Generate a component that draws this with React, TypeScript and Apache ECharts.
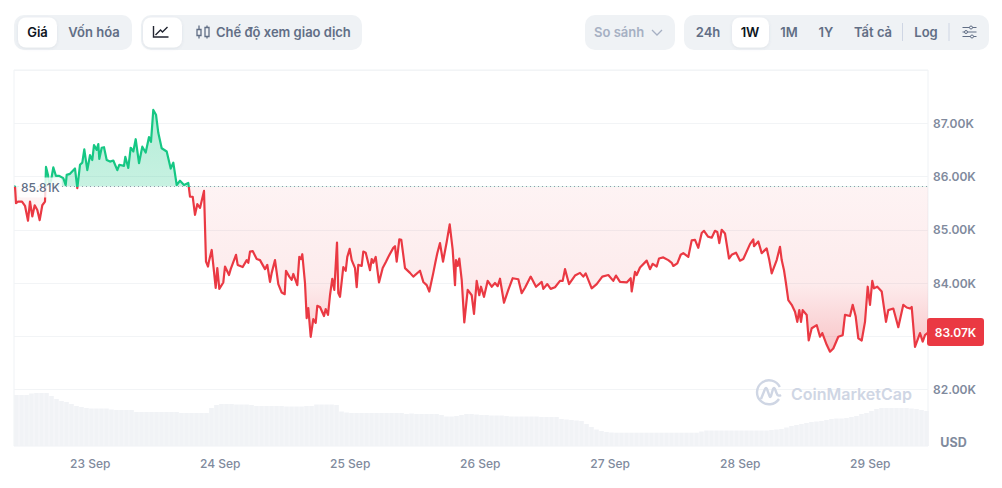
import React, { useEffect, useRef } from 'react'
import * as echarts from 'echarts'

// one tick = 1/130 of a day
const dayLabels = ['23 Sep', '24 Sep', '25 Sep', '26 Sep', '27 Sep', '28 Sep', '29 Sep']
const dayTicks = [76.7, 206.7, 336.7, 466.7, 596.7, 726.7, 856.7]
const basePrice = 85.81
const lastPrice = 83.07

// [tick, price in K USD]
const priceData: [number, number][] = [
  [0, 85.81], [1, 85.81], [2, 85.5], [4, 85.53], [8, 85.53], [11, 85.45], [14, 85.17], [16, 85.53], [18.3, 85.25], [20.7, 85.46], [23.3, 85.37], [25.7, 85.18], [28.3, 85.46], [31, 85.53],
  [32, 86.18], [34, 86.03], [35, 85.86], [37, 85.92], [39.3, 86.17], [42, 86.01], [45.3, 86.01], [49.3, 85.97], [51.7, 85.84], [52.7, 86.03], [56, 86.05], [61, 86.15], [63.3, 85.78],
  [66, 86.22], [68.3, 86.26], [70.3, 86.51], [73.3, 86.12], [76, 86.4], [78.3, 86.31], [80, 86.59], [82.7, 86.5], [84.3, 86.61], [85.3, 86.33], [87.7, 86.54], [90, 86.55], [92.7, 86.31],
  [96, 86.28], [99.3, 86.3], [103.3, 86.12], [105.3, 86.22], [110, 86.2], [111.3, 86.37], [114.3, 86.16], [116.7, 86.54], [119.3, 86.47], [121.7, 86.7], [125, 86.25], [128.3, 86.56],
  [131.7, 86.45], [135, 86.74], [137, 86.65], [139.3, 87.25], [142, 87.16], [144.3, 86.82], [147.7, 86.53], [152.7, 86.47], [156.7, 86.15], [159.3, 86.26], [162.7, 85.84], [166, 85.92],
  [170, 85.84], [174.3, 85.88], [176, 85.62], [178.7, 85.62], [181, 85.28], [183.3, 85.48], [186, 85.41], [190, 85.73], [192, 84.4], [194, 84.31], [195, 84.41], [197.7, 84.62],
  [201.7, 83.91], [203.3, 84.28], [205.3, 83.89], [209.3, 84.01], [211, 84.31], [215, 84.15], [216.7, 84.26], [222, 84.53], [223.7, 84.34], [228.7, 84.3], [232.7, 84.43], [234.3, 84.38],
  [236, 84.59], [238.7, 84.6], [242.7, 84.45], [246, 84.43], [251, 84.26], [253.3, 84.34], [256, 84.02], [257.7, 84.19], [261, 84.43], [264.3, 83.98], [267.7, 83.82], [270.7, 83.79],
  [272, 84.23], [275.3, 84.12], [277.7, 84.06], [279.3, 84.17], [283.3, 83.96], [285.3, 84.49], [287, 84.45], [288.3, 84.54], [291, 84], [292.7, 83.34], [294.3, 83.53], [296.7, 82.99],
  [299.3, 83.32], [301.7, 83.25], [303.3, 83.57], [306, 83.55], [310, 83.38], [311.7, 83.51], [314, 83.4], [316, 83.77], [318.3, 84.08], [320.3, 83.87], [323, 84.76], [324.3, 83.81],
  [326, 83.74], [329.3, 84.3], [331.7, 84.23], [333.3, 84.49], [335.7, 84.64], [337.7, 84.43], [341, 84.28], [342.7, 83.92], [344.3, 84.34], [347.7, 84.32], [349.3, 84.59], [351.7, 84.57],
  [356, 84.24], [357.7, 84.45], [359.3, 84.38], [361.7, 84.49], [365, 84.01], [368.7, 84.28], [372, 84.4], [374.3, 84.49], [379.3, 84.66], [381, 84.69], [382.7, 84.4], [385.3, 84.82],
  [387.3, 84.81], [391, 84.28], [396, 84.19], [399.3, 84.12], [406, 84.23], [409.3, 84.02], [412.7, 83.96], [415.3, 83.84], [419.3, 84.19], [421.3, 84.38], [423.3, 84.56], [426, 84.75],
  [429, 84.4], [432.7, 84.77], [435.7, 85.1], [438.7, 84.62], [441, 83.96], [442, 84.43], [443.7, 84.32], [445.3, 84.46], [447.7, 84.06], [450.3, 83.26], [453.7, 83.87], [457.7, 83.77],
  [460, 83.42], [462.7, 84.04], [465.3, 83.77], [467, 83.93], [470, 83.74], [473.7, 84.04], [477.7, 83.93], [481, 84], [483.7, 83.94], [486, 84.08], [490, 83.63], [494.3, 83.87],
  [498.7, 84.09], [504.3, 84.07], [507.7, 83.81], [511, 83.91], [516.7, 84.12], [522, 83.93], [527.7, 84.02], [529.3, 83.89], [533.3, 83.98], [536.7, 83.89], [541, 83.92], [546, 84.04],
  [548.7, 84.04], [551, 84.26], [555, 83.98], [561, 84.14], [566, 84.19], [569.3, 84.12], [571.7, 84.18], [577.7, 83.9], [582.7, 83.98], [588.3, 84.12], [594.3, 84.15], [599.3, 84.04],
  [602, 84.14], [606, 84.02], [612.7, 84.01], [616.7, 84.09], [617.7, 83.84], [621, 84.21], [622.7, 84.15], [626, 84.29], [632.7, 84.42], [636, 84.26], [638.7, 84.36], [642.7, 84.31],
  [645, 84.46], [649.3, 84.48], [654.3, 84.43], [657.7, 84.38], [659.3, 84.32], [663.3, 84.37], [666.7, 84.53], [669.3, 84.56], [674.3, 84.49], [677.7, 84.8], [681, 84.81], [684.3, 84.66],
  [687.7, 84.94], [690, 84.98], [694, 84.87], [697.7, 84.85], [701, 84.98], [703.3, 84.96], [705.3, 84.75], [707.7, 85], [711, 84.93], [715, 84.46], [717.7, 84.53], [722, 84.57],
  [726, 84.42], [729.3, 84.45], [736, 84.73], [739.3, 84.82], [740, 84.69], [744.3, 84.78], [747.7, 84.56], [752.7, 84.65], [755.3, 84.43], [757.7, 84.18], [762.7, 84.43], [766, 84.68],
  [767.7, 84.43], [770, 84.24], [772, 83.99], [774.3, 83.68], [777.7, 83.59], [781, 83.46], [783.3, 83.27], [785.3, 83.49], [787, 83.27], [788.7, 83.49], [792.7, 83.4], [794.7, 82.92],
  [797.7, 83.15], [802.7, 83.21], [806, 82.99], [808.3, 83.06], [812.7, 82.84], [816, 82.71], [819.3, 82.77], [824.3, 82.99], [828.7, 83.02], [831, 83.4], [836, 83.38], [838.7, 83.59],
  [841.7, 83.37], [844.3, 82.96], [847.7, 82.92], [851, 83.27], [853.7, 83.93], [856, 83.59], [858.3, 84.04], [860, 83.9], [863.3, 83.93], [867.7, 83.84], [872, 83.27], [874.3, 83.49],
  [879.3, 83.52], [884.3, 83.17], [889.3, 83.59], [892.7, 83.54], [896, 83.52], [897.7, 83.55], [901, 82.8], [906, 83.06], [908.7, 82.9], [911, 83.02], [914, 83.07],
]

// one bar every 5 ticks
const volumeStep = 5
const volumes = [
  51, 51, 51, 52.5, 53, 53, 53, 50, 47, 45, 44, 42, 40, 39, 38, 37.5, 37.5, 37.5, 37.5, 36.5, 36, 36, 36, 36, 34, 34, 34, 34, 34, 34, 34, 34, 34,
  33, 33, 33, 33, 33, 33, 38, 41, 42, 42, 42, 41.5, 41.5, 41.5, 41, 40, 40, 40, 40, 40, 40, 39.5, 39.5, 39.5, 39.5, 40, 40, 41.5, 41.5, 41.5, 41.5, 41,
  34.5, 33.5, 33, 33, 33, 33, 33, 33, 33, 33, 33, 33, 33, 32, 32.5, 32, 32, 32, 32, 32, 31, 29.5, 29.5, 30, 31, 32, 32, 31.5, 31, 31, 30.5, 30.5, 30.5,
  30, 29.5, 29.5, 29.5, 29.5, 29.5, 29.5, 29, 29, 29, 29, 27, 26.5, 26, 25.5, 25, 22, 19, 16.5, 15, 14, 13.5,
  13.3, 13.3, 13.3, 13.3, 13.3, 13.3, 13.3, 13.3, 13.3, 13.3, 13.3, 13.3, 13.3, 13.3, 13.3, 13.3, 13.3, 14.5,
  15.5, 15.5, 15.5, 15.5, 15.5, 15.5, 15.5, 15.5, 15.5, 15.5, 15.5, 15.5, 15.5, 16, 16.5, 17, 18.5, 20, 21, 22, 23, 24, 24.5, 25, 26, 27, 27.5, 27.5,
  28, 29, 30, 32, 33, 35, 37, 38, 38, 38, 38, 38, 38, 37.5, 37, 36, 35,
]

const rangeTabs: [string, number][] = [['24h', 708], ['1W', 750], ['1M', 789], ['1Y', 826], ['Tất cả', 873], ['Log', 926]]

const FONT = 'Inter'
const GREEN = '#16C784'
const RED = '#EA3943'
const GREY = '#616E85'
const AXIS_GREY = '#808A9D'
const PILL = '#EFF2F5'

echarts.graphic.registerShape('cmcLogo', echarts.graphic.extendPath(
  'M10 7 A12 12 0 1 1 10.8 -5 M-8 7 L-4 -3 Q-3 -5 -2 -3 L0.5 4 Q1 6 2 4 L4 -3 Q5 -5 6 -3 L7.5 1 Q9 5 12 3', {}))
echarts.graphic.registerShape('lineIcon', echarts.graphic.extendPath(
  'M0 0 L0 11 L15 11 M2 9 L7 4 L9 6 L14 1', {}))
echarts.graphic.registerShape('candleIcon', echarts.graphic.extendPath(
  'M3 0 L3 4 M3 10 L3 13 M11 0 L11 2 M11 11 L11 13 M1 4 H5 V10 H1 Z M9 2 H13 V11 H9 Z', {}))
echarts.graphic.registerShape('chevronIcon', echarts.graphic.extendPath('M0 0 L5 5 L10 0', {}))
echarts.graphic.registerShape('settingsIcon', echarts.graphic.extendPath(
  'M0 2 H7 M10 2 H14 M0 6.5 H2 M5 6.5 H14 M0 11 H8 M11 11 H14 M7 2 A1.5 1.5 0 1 0 10 2 A1.5 1.5 0 1 0 7 2 M2 6.5 A1.5 1.5 0 1 0 5 6.5 A1.5 1.5 0 1 0 2 6.5 M8 11 A1.5 1.5 0 1 0 11 11 A1.5 1.5 0 1 0 8 11', {}))

const label = (text: string, x: number, y: number, fill: string, fontSize = 13, fontWeight = 600, textAlign = 'center') => ({
  type: 'text', x, y, z: 20,
  style: { text, fill, fontSize, fontWeight, fontFamily: FONT, textAlign, textVerticalAlign: 'middle' },
})
const pill = (x: number, y: number, width: number, height: number, r: number, fill: string) => ({
  type: 'rect', z: 18, shape: { x, y, width, height, r }, style: { fill },
})
const whitePill = (x: number, width: number) => ({
  ...pill(x, 17.5, width, 30, 8, '#fff'),
  z: 19,
  style: { fill: '#fff', shadowBlur: 3, shadowColor: 'rgba(88,102,126,0.12)', shadowOffsetY: 1 },
})
const icon = (type: string, x: number, y: number, stroke: string, width = 1.3) => ({
  type, x, y, z: 20, style: { fill: 'none', stroke, lineWidth: width },
})

const App = () => {
  const chartDom = useRef<HTMLDivElement>(null)

  useEffect(() => {
    const chart = echarts.init(chartDom.current!, null, { renderer: 'svg' })

    // global gradient, the hard stop sits on the base price line
    const baseStop = (187.1 - 110) / (352 - 110)
    const lineColor = new echarts.graphic.LinearGradient(0, 110, 0, 352, [
      { offset: 0, color: GREEN },
      { offset: baseStop, color: GREEN },
      { offset: baseStop, color: RED },
      { offset: 1, color: RED },
    ], true)
    const areaColor = new echarts.graphic.LinearGradient(0, 110, 0, 352, [
      { offset: 0, color: 'rgba(22,199,132,0.32)' },
      { offset: baseStop, color: 'rgba(22,199,132,0.24)' },
      { offset: baseStop, color: 'rgba(234,57,67,0.06)' },
      { offset: 0.72, color: 'rgba(234,57,67,0.1)' },
      { offset: 1, color: 'rgba(234,57,67,0.3)' },
    ], true)

    chart.setOption({
      animation: false,
      grid: [
        { left: 14, right: 74, top: 70, height: 319.5, show: true, borderColor: '#EFF2F5', borderWidth: 1 },
        { left: 14, right: 74, top: 389.5, height: 56.5, show: true, borderColor: '#EFF2F5', borderWidth: 1 },
      ],
      xAxis: [
        { type: 'value', gridIndex: 0, min: 0, max: 914, show: false, splitLine: { show: false } },
        {
          type: 'value', gridIndex: 1, min: 0, max: 914,
          splitLine: { show: false },
          axisLine: { show: false },
          axisTick: { show: false },
          axisLabel: {
            customValues: dayTicks,
            formatter: (v: number) => dayLabels[dayTicks.indexOf(v)] ?? '',
            color: AXIS_GREY, fontFamily: FONT, fontSize: 12, fontWeight: 500, margin: 11,
            padding: [0, 1, 0, 0],
          },
        },
      ],
      yAxis: [
        {
          type: 'value', gridIndex: 0, position: 'right', min: 82, max: 88, interval: 1,
          axisLine: { show: false },
          axisTick: { show: false },
          splitLine: { lineStyle: { color: '#F2F4F6', width: 1 } },
          axisLabel: {
            showMaxLabel: false,
            // 83.00K sits under the last price tag
            formatter: (v: number) => (v === 83 ? '' : v.toFixed(2) + 'K'),
            color: AXIS_GREY, fontFamily: FONT, fontSize: 12, fontWeight: 600, margin: 5,
          },
        },
        { type: 'value', gridIndex: 1, min: 0, max: 56.5, show: false, splitLine: { show: false } },
      ],
      series: [
        {
          type: 'bar', xAxisIndex: 1, yAxisIndex: 1, barWidth: 4.6, silent: true,
          itemStyle: { color: '#F1F3F6' },
          data: volumes.map((v, i) => [i * volumeStep + 2.5, v]),
        },
        {
          type: 'line', xAxisIndex: 0, yAxisIndex: 0, showSymbol: false, silent: true, z: 5,
          data: priceData,
          itemStyle: { color: RED },
          lineStyle: { width: 2.2, color: lineColor, join: 'round' },
          areaStyle: { color: areaColor, origin: basePrice, opacity: 1 },
          markLine: {
            silent: true, symbol: 'none', animation: false, z: 6,
            label: { show: false },
            lineStyle: { type: [1, 3], color: '#8F99AA', width: 1 },
            data: [{ yAxis: basePrice }],
          },
        },
      ],
      graphic: [
        // top bar, left
        pill(14, 15, 118, 35, 10, PILL),
        whitePill(18, 39),
        label('Giá', 37.5, 32, '#0D1421'),
        label('Vốn hóa', 94, 32, GREY),
        pill(141, 15, 221, 35, 10, PILL),
        whitePill(143, 39),
        icon('lineIcon', 153.5, 26, '#222531', 1.4),
        icon('candleIcon', 196, 25.5, GREY),
        label('Chế độ xem giao dịch', 216, 32, GREY, 13, 600, 'left'),
        // top bar, right
        pill(585, 15, 90, 35, 10, PILL),
        label('So sánh', 594, 32, '#A6B0C3', 13, 600, 'left'),
        icon('chevronIcon', 652, 30, '#A6B0C3'),
        pill(684, 15, 305, 35, 10, PILL),
        whitePill(732, 37),
        ...rangeTabs.map(([t, x]) => label(t, x, 32, t === '1W' ? '#0D1421' : GREY)),
        { type: 'line', z: 20, shape: { x1: 902.5, y1: 23, x2: 902.5, y2: 41 }, style: { stroke: '#CFD6E4', lineWidth: 1 } },
        { type: 'line', z: 20, shape: { x1: 949, y1: 23, x2: 949, y2: 41 }, style: { stroke: '#CFD6E4', lineWidth: 1 } },
        icon('settingsIcon', 962.5, 25.5, GREY, 1),
        // watermark
        icon('cmcLogo', 769, 392, '#CFD6E4', 2.4),
        label('CoinMarketCap', 791, 393.5, '#CFD6E4', 16, 600, 'left'),
        // base price tag
        {
          type: 'text', x: 18, y: 187.5, z: 20,
          style: {
            text: basePrice.toFixed(2) + 'K', fill: GREY, fontSize: 12, fontWeight: 500, fontFamily: FONT,
            textAlign: 'left', textVerticalAlign: 'middle',
            backgroundColor: 'rgba(255,255,255,0.8)', padding: [4, 2, 4, 3], borderRadius: 3,
          },
        },
        // last price tag
        pill(927, 318, 57, 28, 3, RED),
        { ...label(lastPrice.toFixed(2) + 'K', 955.5, 332, '#fff', 12, 600), z: 21 },
        { ...label('USD', 953.5, 442, AXIS_GREY, 12.5, 700) },
      ],
    })

    return () => {
      chart.dispose()
    }
  }, [])

  return <div ref={chartDom} style={{ position: 'absolute', left: 0, top: 0, width: 1002, height: 488 }} />
}

export default App
